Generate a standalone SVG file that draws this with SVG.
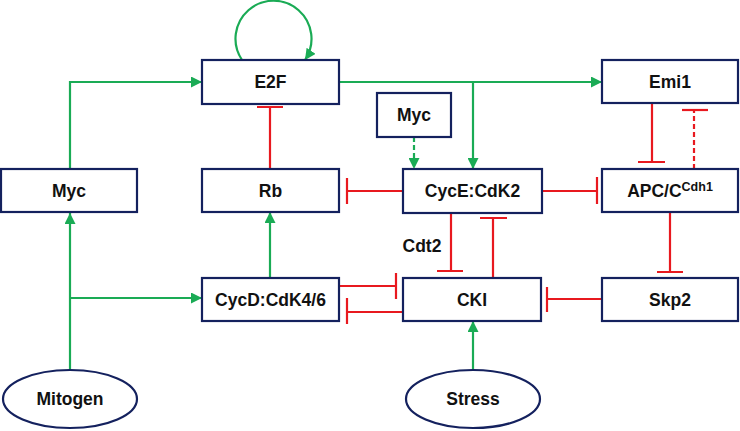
<svg xmlns="http://www.w3.org/2000/svg" width="740" height="431" viewBox="0 0 740 431">
<style>
.box{fill:#fff;stroke:#14215e;stroke-width:2.2}
.lbl{font-family:"Liberation Sans",Arial,sans-serif;font-weight:bold;font-size:17.5px;fill:#111;text-anchor:middle}
.act{fill:none;stroke:#1aab55;stroke-width:2.2}
.inh{fill:none;stroke:#e8191f;stroke-width:2.2}
.dash{stroke-dasharray:5,3}
</style>
<defs>
<marker id="arr" viewBox="0 0 10 10" refX="10" refY="5" markerWidth="11" markerHeight="11" markerUnits="userSpaceOnUse" orient="auto">
<path d="M0,0 L10,5 L0,10 z" fill="#1aab55"/>
</marker>
</defs>
<g id="connectors">
<path class="act" d="M70,370 V213" marker-end="url(#arr)"/>
<path class="act" d="M70,298 H202" marker-end="url(#arr)"/>
<path class="act" d="M70,169 V82 H202" marker-end="url(#arr)"/>
<path class="act" d="M242,60 A38,38 0 1 1 305,60" marker-end="url(#arr)"/>
<path class="act" d="M339,82 H602" marker-end="url(#arr)"/>
<path class="act" d="M473,82 V169" marker-end="url(#arr)"/>
<path class="act dash" d="M414,137 V169" marker-end="url(#arr)"/>
<path class="act" d="M270,278 V212" marker-end="url(#arr)"/>
<path class="act" d="M473,370 V321" marker-end="url(#arr)"/>
<path class="inh" d="M270,169 V107 M257,107 H283"/>
<path class="inh" d="M403,191 H347 M347,178 V204"/>
<path class="inh" d="M542,191 H597 M597,177 V204"/>
<path class="inh" d="M652,103 V162 M638,162 H665"/>
<path class="inh dash" d="M694,169 V110"/>
<path class="inh" d="M682,110 H708"/>
<path class="inh" d="M670,212 V272 M657,272 H683"/>
<path class="inh" d="M602,299 H547 M547,287 V312"/>
<path class="inh" d="M451,213 V271 M437,271 H463"/>
<path class="inh" d="M493,278 V218 M480,218 H507"/>
<path class="inh" d="M339,286 H396 M396,273 V299"/>
<path class="inh" d="M403,312 H347 M347,298 V324"/>
</g>
<g id="E2F"><rect class="box" x="202" y="60" width="137" height="44"/><text class="lbl" x="270.5" y="88">E2F</text></g>
<g id="Emi1"><rect class="box" x="602" y="60" width="136" height="43"/><text class="lbl" x="670" y="88">Emi1</text></g>
<g id="Myc2"><rect class="box" x="377" y="93" width="74" height="44"/><text class="lbl" x="414" y="121">Myc</text></g>
<g id="Myc"><rect class="box" x="1" y="169" width="136" height="43"/><text class="lbl" x="69" y="197">Myc</text></g>
<g id="Rb"><rect class="box" x="202" y="169" width="137" height="43"/><text class="lbl" x="270.5" y="197">Rb</text></g>
<g id="CycE"><rect class="box" x="403" y="169" width="139" height="44"/><text class="lbl" x="472.5" y="197">CycE:CdK2</text></g>
<g id="APC"><rect class="box" x="602" y="169" width="136" height="43"/><text class="lbl" x="670" y="197">APC/C<tspan font-size="12.5" dy="-6">Cdh1</tspan></text></g>
<g id="CycD"><rect class="box" x="202" y="278" width="137" height="43"/><text class="lbl" x="270.5" y="306">CycD:CdK4/6</text></g>
<g id="CKI"><rect class="box" x="403" y="278" width="138" height="43"/><text class="lbl" x="472" y="306">CKI</text></g>
<g id="Skp2"><rect class="box" x="602" y="278" width="136" height="43"/><text class="lbl" x="670" y="306">Skp2</text></g>
<g id="Mitogen"><ellipse class="box" cx="70" cy="399" rx="67" ry="29"/><text class="lbl" x="70" y="405">Mitogen</text></g>
<g id="Stress"><ellipse class="box" cx="473" cy="399" rx="67" ry="29"/><text class="lbl" x="473" y="405">Stress</text></g>
<text class="lbl" x="422" y="252">Cdt2</text>
</svg>
